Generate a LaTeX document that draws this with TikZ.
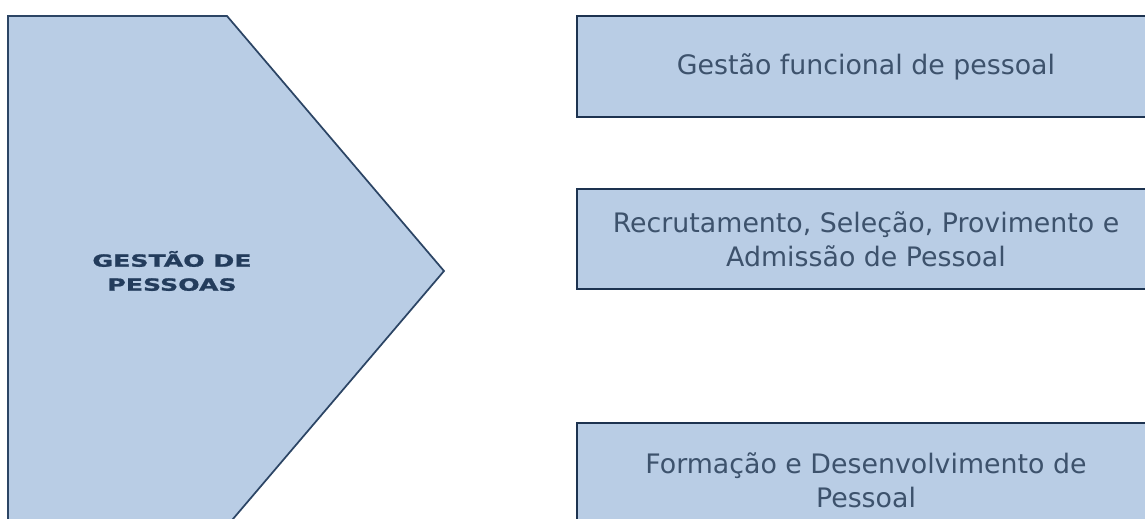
\documentclass[tikz,border=0pt]{standalone}
\usepackage{fontspec}
\setmainfont{DejaVu Sans}
\newfontfamily\titlefont[FakeStretch=1.5, FakeBold=1.2]{DejaVu Sans}
\usepackage{tikz}

\definecolor{boxfill}{HTML}{B9CDE5}
\definecolor{boxline}{HTML}{1D3350}
\definecolor{arrowline}{HTML}{2C4565}
\definecolor{textcol}{HTML}{3D526C}
\definecolor{titlecol}{HTML}{233C5C}

\begin{document}
\begin{tikzpicture}[x=0.75pt, y=-0.75pt,
    areabox/.style={draw=boxline, line width=1.5pt, fill=boxfill, text=textcol,
        minimum width=578*0.75pt, align=center,
        font=\fontsize{20.1pt}{25.5pt}\selectfont},
    titletext/.style={text=titlecol, align=center,
        font=\titlefont\bfseries\fontsize{12.6pt}{18pt}\selectfont}]
    \clip (0,0) rectangle (1145,518);

    % seta grande
    \draw[draw=arrowline, line width=1.3pt, fill=boxfill]
        (8,16) -- (227,16) -- (444,271) -- (227,526) -- (8,526) -- cycle;
    \node[titletext] (gp) at (172,271) {GESTÃO DE\\PESSOAS};

    \node[areabox, minimum height=101*0.75pt] (gf) at (866,66.5)
        {Gestão funcional de pessoal};
    \node[areabox, minimum height=100*0.75pt] (rs) at (866,239)
        {Recrutamento, Seleção, Provimento e\\Admissão de Pessoal};
    \node[areabox, minimum height=114*0.75pt] (fd) at (866,480)
        {Formação e Desenvolvimento de\\Pessoal};
\end{tikzpicture}
\end{document}
